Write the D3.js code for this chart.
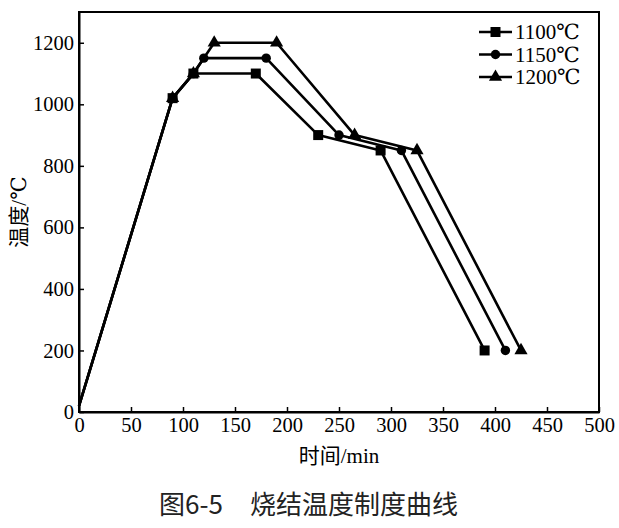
<!DOCTYPE html>
<html>
<head>
<meta charset="utf-8">
<script src="https://cdn.jsdelivr.net/npm/d3@7"></script>
<style>
  body { margin: 0; background: #fff; }
</style>
</head>
<body>
<div id="chart"></div>
<script>
// Data
const seriesNames = ["1100℃", "1150℃", "1200℃"];
const symbols = ["square", "circle", "triangle"];
const time1100 = [0, 90, 110, 170, 230, 290, 390];
const temp1100 = [20, 1020, 1100, 1100, 900, 850, 200];
const time1150 = [0, 90, 110, 120, 180, 250, 310, 410];
const temp1150 = [20, 1020, 1100, 1150, 1150, 900, 850, 200];
const time1200 = [0, 90, 110, 130, 190, 265, 325, 425];
const temp1200 = [20, 1020, 1100, 1200, 1200, 900, 850, 200];
const xTicks = [0, 50, 100, 150, 200, 250, 300, 350, 400, 450, 500];
const yTicks = [0, 200, 400, 600, 800, 1000, 1200];

const width = 619, height = 528;
const margin = { top: 12, right: 20, bottom: 116, left: 79 };
const serif = '"Liberation Serif", "Times New Roman", "DejaVu Serif", serif';

const svg = d3.select("#chart").append("svg")
    .attr("width", width)
    .attr("height", height);

const x = d3.scaleLinear().domain([0, 500]).range([margin.left, width - margin.right]);
const y = d3.scaleLinear().domain([0, 1300]).range([height - margin.bottom, margin.top]);

// Frame
svg.append("rect")
    .attr("x", x(0)).attr("y", y(1300))
    .attr("width", x(500) - x(0)).attr("height", y(0) - y(1300))
    .attr("fill", "none").attr("stroke", "#000").attr("stroke-width", 2);

// Axes (ticks point inward)
const xAxis = svg.append("g")
    .attr("transform", `translate(0,${y(0)})`)
    .call(d3.axisBottom(x).tickValues(xTicks).tickFormat(d3.format("d"))
        .tickSize(-5).tickPadding(5).tickSizeOuter(0));

const yAxis = svg.append("g")
    .attr("transform", `translate(${x(0)},0)`)
    .call(d3.axisLeft(y).tickValues(yTicks).tickFormat(d3.format("d"))
        .tickSize(-5).tickPadding(4).tickSizeOuter(0));

[xAxis, yAxis].forEach(ax => {
    ax.attr("font-family", serif).attr("font-size", 20.5);
    ax.selectAll(".tick line").attr("stroke", "#000").attr("stroke-width", 1.5);
    ax.selectAll(".tick text").attr("fill", "#000");
    ax.select(".domain").attr("stroke", "#000").attr("stroke-width", 2);
});
yAxis.selectAll(".tick text").attr("dx", "-1");

// Axis titles
svg.append("text")
    .attr("x", (x(0) + x(500)) / 2)
    .attr("y", 463)
    .attr("text-anchor", "middle")
    .style("font-family", serif + ', "Noto Sans CJK SC"')
    .style("font-size", "21px")
    .text("时间/min");

svg.append("text")
    .attr("transform", `translate(26,${y(650)}) rotate(-90)`)
    .attr("text-anchor", "middle")
    .style("font-family", serif + ', "Noto Sans CJK SC"')
    .style("font-size", "21px")
    .text("温度/℃");

// Series
const series = [
    { name: seriesNames[0], sym: symbols[0], pts: time1100.map((t, i) => [t, temp1100[i]]) },
    { name: seriesNames[1], sym: symbols[1], pts: time1150.map((t, i) => [t, temp1150[i]]) },
    { name: seriesNames[2], sym: symbols[2], pts: time1200.map((t, i) => [t, temp1200[i]]) }
];

const symbolPath = {
    square: d3.symbol(d3.symbolSquare, 100),
    circle: d3.symbol(d3.symbolCircle, 70),
    triangle: d3.symbol(d3.symbolTriangle, 75)
};

const line = d3.line().x(d => x(d[0])).y(d => y(d[1]));

series.forEach(s => {
    svg.append("path")
        .datum(s.pts)
        .attr("d", line)
        .attr("fill", "none")
        .attr("stroke", "#000")
        .attr("stroke-width", 2.6)
        .attr("stroke-linejoin", "round");

    svg.selectAll(null)
        .data(s.pts.slice(1))
        .join("path")
        .attr("transform", d => `translate(${x(d[0])},${y(d[1])})`)
        .attr("d", symbolPath[s.sym]())
        .attr("fill", "#000");
});

// Legend
const legend = svg.append("g").attr("transform", "translate(479,32)");
series.forEach((s, i) => {
    const g = legend.append("g").attr("transform", `translate(0,${i * 22.5})`);
    g.append("line")
        .attr("x1", 0).attr("x2", 33)
        .attr("stroke", "#000").attr("stroke-width", 2.6);
    g.append("path")
        .attr("transform", "translate(16.5,0)")
        .attr("d", symbolPath[s.sym]())
        .attr("fill", "#000");
    g.append("text")
        .attr("x", 36)
        .attr("dy", "0.35em")
        .style("font-family", serif)
        .style("font-size", "21px")
        .text(s.name);
});

// Caption
const caption = svg.append("g")
    .style("font-family", "'Noto Sans CJK SC', 'Noto Sans', sans-serif")
    .style("font-size", "26px")
    .style("fill", "#222");
caption.append("text").attr("x", 159).attr("y", 514).text("图6-5");
caption.append("text").attr("x", 250).attr("y", 514).text("烧结温度制度曲线");
</script>
</body>
</html>
